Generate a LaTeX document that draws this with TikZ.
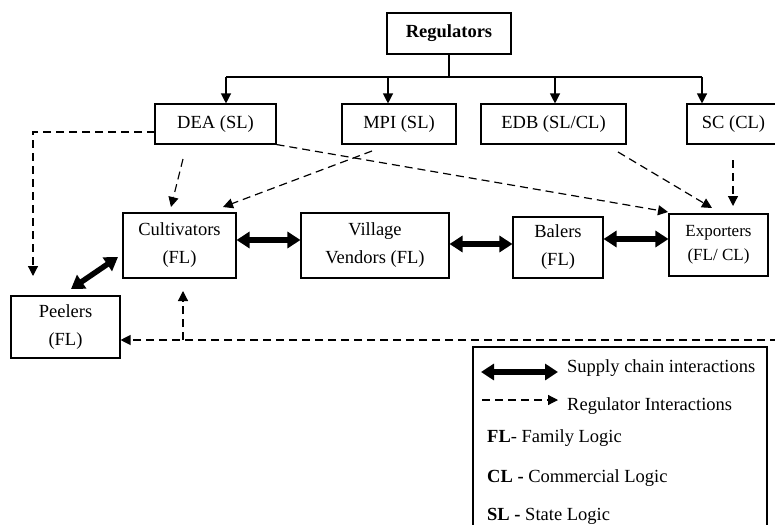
\documentclass[tikz,border=0pt]{standalone}
\usepackage{fontspec}
\setmainfont{Liberation Serif}
\usetikzlibrary{arrows.meta}
\begin{document}
\begin{tikzpicture}[x=1pt,y=-1pt,
  box/.style={draw,line width=1.1pt,inner sep=0pt,align=center,
    font=\fontsize{18.5}{28}\selectfont},
  solidarr/.style={line width=1.2pt,-{Triangle[length=10pt,width=10pt]}},
  plainline/.style={line width=1.2pt},
  dasharr/.style={line width=1.2pt,dash pattern=on 8pt off 5pt,-{Triangle[length=10pt,width=10pt]}},
  thickarr/.style={line width=5.5pt,{Triangle[length=13pt,width=16pt]}-{Triangle[length=13pt,width=16pt]}},
  legtext/.style={anchor=base west,inner sep=0pt,font=\fontsize{18.5}{22}\selectfont}]
\clip (0,0) rectangle (775,524);
\fill[white] (0,0) rectangle (775,524);
% nodes
\node[box,minimum width=124pt,minimum height=41pt,font=\fontsize{18.5}{22}\selectfont\bfseries] (reg) at (449,33.5) {Regulators};
\node[box,minimum width=121pt,minimum height=40pt] (dea) at (215.5,124) {DEA (SL)};
\node[box,minimum width=114pt,minimum height=40pt] (mpi) at (399,124) {MPI (SL)};
\node[box,minimum width=145pt,minimum height=40pt] (edb) at (553.5,124) {EDB (SL/CL)};
\node[box,minimum width=93pt,minimum height=40pt] (sc) at (733.5,124) {SC (CL)};
\node[box,minimum width=113pt,minimum height=65pt] (cult) at (179.5,245.5) {Cultivators\\(FL)};
\node[box,minimum width=148pt,minimum height=65pt] (vill) at (375,245.5) {Village\\Vendors (FL)};
\node[box,minimum width=90pt,minimum height=61pt] (bal) at (558,247.5) {Balers\\(FL)};
\node[box,minimum width=99pt,minimum height=62pt,font=\fontsize{17}{24}\selectfont] (exp) at (718.5,245) {Exporters\\(FL/ CL)};
\node[box,minimum width=109pt,minimum height=62pt] (peel) at (65.5,327) {Peelers\\(FL)};
% regulator tree
\coordinate (bl) at (226,77);
\coordinate (bm) at (388,77);
\coordinate (be) at (555,77);
\coordinate (br) at (702,77);
\draw[plainline] (reg.south) -- (reg.south |- bl);
\draw[plainline] (bl) -- (br);
\draw[solidarr] (bl) -- (bl |- dea.north);
\draw[solidarr] (bm) -- (bm |- mpi.north);
\draw[solidarr] (be) -- (be |- edb.north);
\draw[solidarr] (br) -- (br |- sc.north);
% dashed regulator interactions
\coordinate (dlw) at (155,132);
\coordinate (pk) at (33,276);
\draw[dasharr] (dlw) -| (pk);
\coordinate (d1s) at (183,159);
\coordinate (d1e) at (171,207);
\draw[dasharr] (d1s) -- (d1e);
\coordinate (d2e) at (668,212);
\draw[dasharr] (dea.south east) -- (d2e);
\coordinate (m1s) at (372,151);
\coordinate (m1e) at (223,207);
\draw[dasharr] (m1s) -- (m1e);
\coordinate (e1s) at (618,152);
\coordinate (e1e) at (712,208);
\draw[dasharr] (e1s) -- (e1e);
\coordinate (s1s) at (733,160);
\coordinate (s1e) at (733,206);
\draw[dasharr] (s1s) -- (s1e);
\coordinate (bot) at (778,340);
\coordinate (brn) at (183,340);
\coordinate (brt) at (183,291);
\draw[dasharr] (bot) -- (bot -| peel.east);
\draw[dasharr] (brn) -- (brt);
% supply chain
\coordinate (t1) at (0,240);
\coordinate (t2) at (0,244);
\coordinate (t3) at (0,239);
\draw[thickarr] (cult.east |- t1) -- (vill.west |- t1);
\draw[thickarr] (vill.east |- t2) -- (bal.west |- t2);
\draw[thickarr] (bal.east |- t3) -- (exp.west |- t3);
\coordinate (pc1) at (71,289);
\coordinate (pc2) at (118,257);
\draw[thickarr] (pc1) -- (pc2);
% legend
\draw[line width=1.1pt] (473,347) rectangle (767,560);
\coordinate (la1) at (481,372);
\coordinate (la2) at (558,372);
\draw[thickarr] (la1) -- (la2);
\coordinate (lb1) at (482,400);
\coordinate (lb2) at (558,400);
\draw[dasharr] (lb1) -- (lb2);
\node[legtext] (l1) at (567,372) {Supply chain interactions};
\node[legtext] (l2) at (567,410) {Regulator Interactions};
\node[legtext] (l3) at (487,442) {\textbf{FL}- Family Logic};
\node[legtext] (l4) at (487,482) {\textbf{CL -} Commercial Logic};
\node[legtext] (l5) at (487,520) {\textbf{SL -} State Logic};
\end{tikzpicture}
\end{document}
